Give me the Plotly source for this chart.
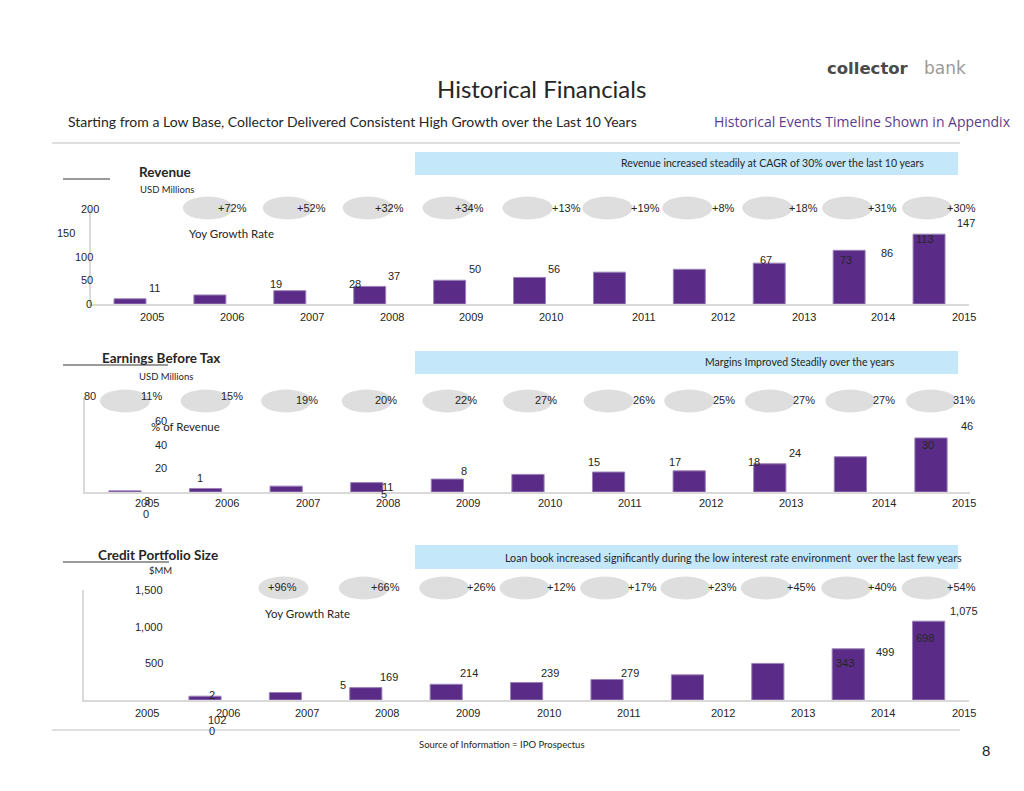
import plotly.graph_objects as go

# ---------------- data ----------------
years = [2005, 2006, 2007, 2008, 2009, 2010, 2011, 2012, 2013, 2014, 2015]

revenue = [11, 19, 28, 37, 50, 56, 67, 73, 86, 113, 147]
revenue_growth = ["+72%", "+52%", "+32%", "+34%", "+13%", "+19%", "+8%", "+18%", "+31%", "+30%"]
revenue_ticks = [0, 50, 100, 150, 200]

ebt = [1, 3, 5, 8, 11, 15, 17, 18, 24, 30, 46]
ebt_margin = ["11%", "15%", "19%", "20%", "22%", "27%", "26%", "25%", "27%", "27%", "31%"]
ebt_ticks = [0, 20, 40, 60, 80]

credit = [0, 52, 102, 169, 214, 239, 279, 343, 499, 698, 1075]
credit_growth = ["+96%", "+66%", "+26%", "+12%", "+17%", "+23%", "+45%", "+40%", "+54%"]
credit_ticks = [500, 1000, 1500]

# ---------------- styling / layout helpers ----------------
W, H = 1024, 791
def px(x):
    return x / W
def py(y):
    return 1 - y / H

BAR = "#5b2c87"
BAR_EDGE = "#9a82b8"
AXIS = "#d9d9d9"
ELL = "#dedede"
TXT = "#262626"
NUM_FONT = "Liberation Sans, Arial, sans-serif"
TXT_FONT = "Lato, Carlito, sans-serif"

panels = [
    dict(name="rev", xa="x", ya="y", values=revenue, fmt="{:,}",
         xdom=(91, 969), xr=(-0.488, 10.5), ydom=(304, 209), yr=(0, 200),
         ticks=revenue_ticks, tick_x=91, tick_fmt="{:,}",
         tick_dx=[-2, -4, -7, -25, -1], tick_dy=[0, 0, 0, 0, 0], tick_anchor="center",
         year_y=317, year_dx=[22, 22, 22, 22, 21, 21, 35, 34, 35, 34, 35],
         lab_dx=[25, 66, 65, 24, 25, 24, 157, 157, 118, 76, 37],
         lab_dy=[11, 11, 7, 10, 11, 8, 12, 9, 10, 11, 11],
         lab_parts={},
         growth=revenue_growth, g_start=1, ell_y=208, ell_dx=-2,
         g_y=[208] * 10, g_dx=[23, 22, 20, 20, 37, 36, 34, 34, 33, 32]),
    dict(name="ebt", xa="x2", ya="y2", values=ebt, fmt="{:,}",
         xdom=(85, 970), xr=(-0.496, 10.484), ydom=(492, 398), yr=(0, 80),
         ticks=ebt_ticks, tick_x=85, tick_fmt="{:,}",
         tick_dx=[61, 76, 76, 76, 5], tick_dy=[-22, 0, 0, 0, 2], tick_anchor="center",
         year_y=503, year_dx=[22, 21, 22, 21, 21, 22, 21, 22, 21, 34, 33],
         lab_dx=[75, -59, 98, 97, -60, 66, 66, 65, 25, 78, 36],
         lab_dy=[13, -13, -8, 12, -8, 12, 10, 9, 11, 12, 12],
         lab_parts={},
         growth=ebt_margin, g_start=0, ell_y=401, ell_dx=0,
         g_y=[396, 396, 400, 400, 400, 400, 400, 400, 400, 400, 400],
         g_dx=[27, 26, 21, 19, 19, 18, 35, 35, 34, 34, 33]),
    dict(name="credit", xa="x3", ya="y3", values=credit, fmt="{:,}",
         xdom=(84, 969), xr=(-0.505, 10.502), ydom=(700, 590), yr=(0, 1500),
         ticks=credit_ticks, tick_x=84, tick_fmt="{:,}",
         tick_dx=[81, 81, 81], tick_dy=[0, 0, 0], tick_anchor="right",
         year_y=713, year_dx=[22, 23, 22, 21, 22, 22, 22, 36, 35, 35, 35],
         lab_dx=[87, 0, -68, 23, 23, 23, 23, 158, 117, 77, 35],
         lab_dy=[-31, 0, -27, 11, 11, 9, 7, 12, 11, 11, 10],
         lab_parts={1: [(0, 1, 138, 11), (1, 2, 7, 1)]},
         growth=credit_growth, g_start=2, ell_y=588, ell_dx=-2,
         g_y=[587] * 9, g_dx=[-3, 20, 35, 35, 35, 35, 34, 34, 33]),
]

fig = go.Figure()
annotations = []
shapes = []
layout_axes = {}

idx = list(range(len(years)))

for k, p in enumerate(panels):
    suffix = "" if k == 0 else str(k + 1)
    fig.add_trace(go.Bar(
        x=idx, y=p["values"], width=0.4,
        marker=dict(color=BAR, line=dict(color=BAR_EDGE,
                                         width=[1 if v else 0 for v in p["values"]])),
        xaxis=p["xa"], yaxis=p["ya"], showlegend=False, hoverinfo="x+y",
    ))
    layout_axes["xaxis" + suffix] = dict(
        domain=[px(p["xdom"][0]), px(p["xdom"][1])], range=list(p["xr"]),
        anchor=p["ya"], showgrid=False, zeroline=False, showticklabels=False,
        ticks="", showline=True, linecolor=AXIS, linewidth=1.5, fixedrange=True)
    layout_axes["yaxis" + suffix] = dict(
        domain=[py(p["ydom"][0]), py(p["ydom"][1])], range=list(p["yr"]),
        anchor=p["xa"], showgrid=False, zeroline=False, showticklabels=False,
        ticks="", showline=True, linecolor=AXIS, linewidth=1.5, fixedrange=True)

    # year labels (category axis)
    for i, yr in enumerate(years):
        annotations.append(dict(
            xref=p["xa"], yref="paper", x=i, y=py(p["year_y"]), text=str(yr),
            xshift=p["year_dx"][i], showarrow=False, xanchor="center", yanchor="middle",
            font=dict(family=NUM_FONT, size=11, color=TXT)))

    # value axis tick labels
    for j, t in enumerate(p["ticks"]):
        annotations.append(dict(
            xref="paper", yref=p["ya"], x=px(p["tick_x"]), y=t, text=p["tick_fmt"].format(t),
            xshift=p["tick_dx"][j], yshift=p["tick_dy"][j], showarrow=False,
            xanchor=p["tick_anchor"], yanchor="middle",
            font=dict(family=NUM_FONT, size=11, color=TXT)))

    # value labels
    for i, v in enumerate(p["values"]):
        label = p["fmt"].format(v)
        parts = p["lab_parts"].get(i, [(0, len(label), p["lab_dx"][i], p["lab_dy"][i])])
        for a, b, dx, dy in parts:
            annotations.append(dict(
                xref=p["xa"], yref=p["ya"], x=i, y=v, text=label[a:b],
                xshift=dx, yshift=dy, showarrow=False, xanchor="center", yanchor="middle",
                font=dict(family=NUM_FONT, size=11, color=TXT)))

    # growth ellipses + labels
    for j, g in enumerate(p["growth"]):
        i = p["g_start"] + j
        shapes.append(dict(
            type="circle", xref=p["xa"], xsizemode="pixel", xanchor=i,
            x0=-25 + p["ell_dx"], x1=25 + p["ell_dx"],
            yref="paper", y0=py(p["ell_y"] + 11.5), y1=py(p["ell_y"] - 11.5),
            fillcolor=ELL, line=dict(width=0), layer="below"))
        annotations.append(dict(
            xref=p["xa"], yref="paper", x=i, y=py(p["g_y"][j]), text=g,
            xshift=p["g_dx"][j], showarrow=False, xanchor="center", yanchor="middle",
            font=dict(family=NUM_FONT, size=11, color=TXT)))

# ---------------- slide decorations ----------------
def note(x, y, text, size, color=TXT, family=TXT_FONT, anchor="center"):
    annotations.append(dict(xref="paper", yref="paper", x=px(x), y=py(y), text=text,
                            showarrow=False, xanchor=anchor, yanchor="middle",
                            font=dict(family=family, size=size, color=color)))

def hline(x0, x1, y, color, width):
    shapes.append(dict(type="line", xref="paper", yref="paper", x0=px(x0), x1=px(x1),
                       y0=py(y), y1=py(y), line=dict(color=color, width=width)))

def box(x0, x1, y0, y1, color):
    shapes.append(dict(type="rect", xref="paper", yref="paper", x0=px(x0), x1=px(x1),
                       y0=py(y1), y1=py(y0), fillcolor=color, line=dict(width=0), layer="below"))

note(541, 88, "Historical Financials", 24)
note(66, 121, "Starting from a Low Base, Collector Delivered Consistent High Growth over the Last 10 Years",
     14, anchor="left")
note(712, 121, "Historical Events Timeline Shown in Appendix", 14, color="#5e3a8e",
     family="Open Sans, Noto Sans, sans-serif", anchor="left")
note(825, 68, "<b>collector</b>", 16.5, color="#4a4a4a", family="DejaVu Sans, sans-serif", anchor="left")
note(922, 68, "bank", 17, color="#9a9a9a", family="DejaVu Sans, sans-serif", anchor="left")

hline(52, 960, 143, "#d4d4d4", 1.5)
hline(52, 960, 730, "#d4d4d4", 1.5)

# Revenue section
box(415, 958, 152, 175, "#c4e7f9")
note(772, 163, "Revenue increased steadily at CAGR of 30% over the last 10 years", 10.5)
hline(63, 110, 179, "#9a9a9a", 2)
note(137, 172, "<b>Revenue</b>", 13.5, anchor="left")
note(138, 189, "USD Millions", 9.5, anchor="left")
note(231, 233, "Yoy Growth Rate", 11.5)

# EBT section
box(415, 958, 351, 374, "#c4e7f9")
note(800, 362, "Margins Improved Steadily over the years", 10.5)
hline(63, 168, 365, "#9a9a9a", 2)
note(100, 358, "<b>Earnings Before Tax</b>", 13.5, anchor="left")
note(137, 376, "USD Millions", 9.5, anchor="left")
note(185, 427, "% of Revenue", 11.5)

# Credit section
box(415, 958, 545, 569, "#c4e7f9")
note(733, 557, "Loan book increased significantly during the low interest rate environment  over the last few years", 10.7)
hline(63, 169, 562, "#9a9a9a", 2)
note(96, 555, "<b>Credit Portfolio Size</b>", 13.5, anchor="left")
note(160, 570, "$MM", 9.5)
note(307, 613, "Yoy Growth Rate", 11.5)

note(502, 744, "Source of Information = IPO Prospectus", 9.5)
note(986, 750, "8", 15, family=NUM_FONT)

fig.update_layout(
    width=W, height=H, autosize=False,
    margin=dict(l=0, r=0, t=0, b=0, pad=0),
    paper_bgcolor="white", plot_bgcolor="rgba(0,0,0,0)",
    annotations=annotations, shapes=shapes, bargap=0.5,
    showlegend=False, **layout_axes,
)

fig.write_html("out.html", config={"displayModeBar": False},
               post_script="document.body.style.margin='0';document.body.style.overflow='hidden';")
